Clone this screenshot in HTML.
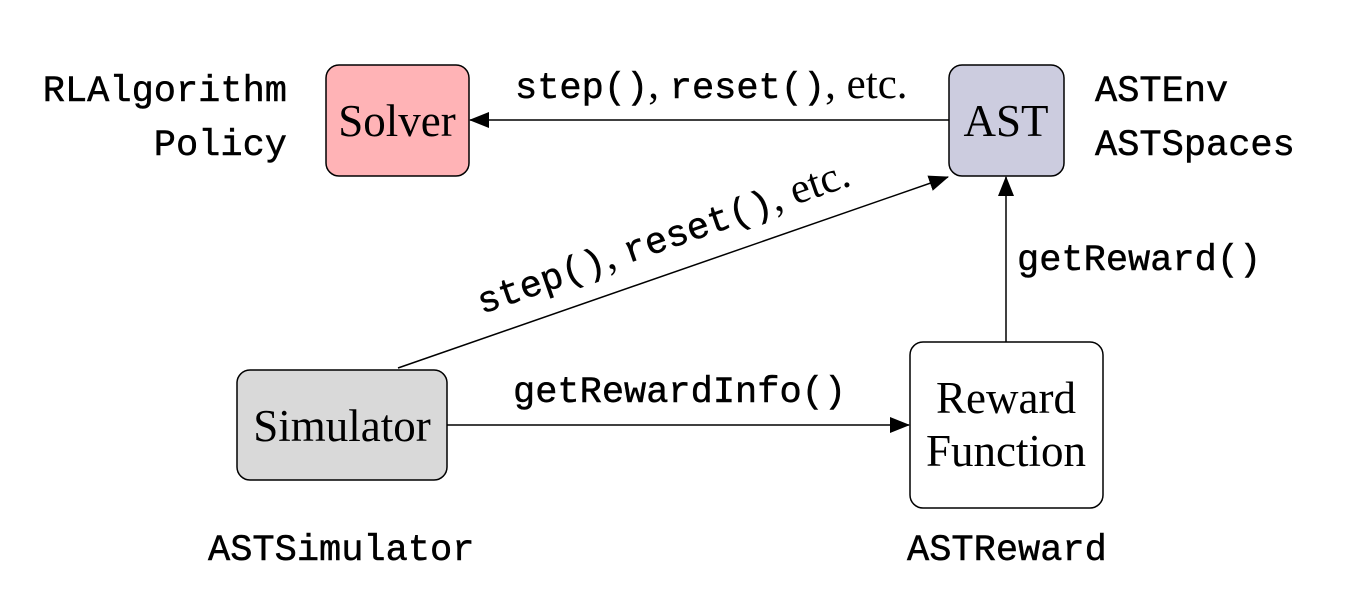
<!DOCTYPE html>
<html><head><style>
html,body{margin:0;padding:0;background:#fff;}
svg{display:block;}
.m{font-family:"Liberation Mono",monospace;font-size:37px;fill:#000;stroke:#000;stroke-width:0.5;}
.s{font-family:"Liberation Serif",serif;font-size:45px;fill:#000;}
.t{font-family:"Liberation Serif",serif;font-size:43px;fill:#000;}
</style></head><body>
<svg width="1353" height="596" viewBox="0 0 1353 596" xmlns="http://www.w3.org/2000/svg">
<defs><marker id="a" markerWidth="20" markerHeight="16" refX="19" refY="8" orient="auto" markerUnits="userSpaceOnUse"><path d="M0,0 L20,8 L0,16 z" fill="#000"/></marker></defs>
<rect x="326" y="65" width="143" height="111" rx="13" fill="#ffb3b6" stroke="#000" stroke-width="1.5"/>
<rect x="949" y="65" width="115" height="111" rx="13" fill="#ccccdf" stroke="#000" stroke-width="1.5"/>
<rect x="237" y="370" width="210" height="110" rx="13" fill="#d9d9d9" stroke="#000" stroke-width="1.5"/>
<rect x="910" y="342" width="193" height="166" rx="13" fill="#fff" stroke="#000" stroke-width="1.5"/>
<line x1="949" y1="120" x2="470" y2="120" stroke="#000" stroke-width="1.5" marker-end="url(#a)"/>
<line x1="447" y1="425" x2="909" y2="425" stroke="#000" stroke-width="1.5" marker-end="url(#a)"/>
<line x1="1006" y1="342" x2="1006" y2="177" stroke="#000" stroke-width="1.5" marker-end="url(#a)"/>
<line x1="398" y1="368" x2="948" y2="177" stroke="#000" stroke-width="1.5" marker-end="url(#a)"/>
<text class="s" x="397" y="136" text-anchor="middle">Solver</text>
<text class="s" x="1006" y="136" text-anchor="middle">AST</text>
<text class="s" x="342" y="441" text-anchor="middle">Simulator</text>
<text class="s" x="1006" y="413" text-anchor="middle">Reward</text>
<text class="s" x="1006" y="466" text-anchor="middle">Function</text>
<text class="m" x="287" y="101" text-anchor="end">RLAlgorithm</text>
<text class="m" x="287" y="155" text-anchor="end">Policy</text>
<text class="m" x="1095" y="101">ASTEnv</text>
<text class="m" x="1095" y="155">ASTSpaces</text>
<text x="515" y="98"><tspan class="m">step()</tspan><tspan class="t">, </tspan><tspan class="m">reset()</tspan><tspan class="t">, etc.</tspan></text>
<text transform="translate(482,314) rotate(-19.2)"><tspan class="m">step()</tspan><tspan class="t">, </tspan><tspan class="m">reset()</tspan><tspan class="t">, etc.</tspan></text>
<text class="m" x="513" y="402">getRewardInfo()</text>
<text class="m" x="1017" y="270">getReward()</text>
<text class="m" x="208" y="560">ASTSimulator</text>
<text class="m" x="907" y="560">ASTReward</text>
</svg>
</body></html>
